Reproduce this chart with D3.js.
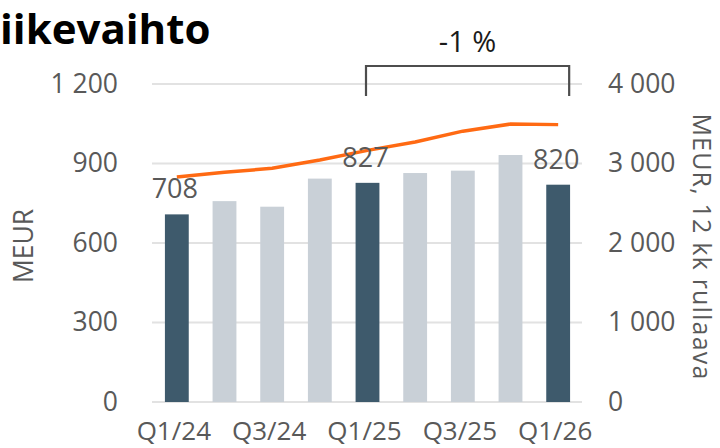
<!DOCTYPE html>
<html>
<head>
<meta charset="utf-8">
<script src="https://cdn.jsdelivr.net/npm/d3@7"></script>
<style>
  body { margin: 0; background: #fff; }
  svg { display: block; font-family: "Open Sans", sans-serif; }
</style>
</head>
<body>
<div id="chart"></div>
<script>
var width = 720, height = 448;

// quarterly net sales, MEUR
var quarters = ["Q1/24", "Q2/24", "Q3/24", "Q4/24", "Q1/25", "Q2/25", "Q3/25", "Q4/25", "Q1/26"];
var sales = [708, 758, 737, 843, 827, 864, 873, 932, 820];
// 12 month rolling, MEUR
var rolling = [2830, 2889, 2940, 3044, 3165, 3271, 3407, 3496, 3489];
var highlighted = ["Q1/24", "Q1/25", "Q1/26"];
var shownLabels = ["Q1/24", "Q3/24", "Q1/25", "Q3/25", "Q1/26"];
var leftTicks = [0, 300, 600, 900, 1200];
var rightTicks = [0, 1000, 2000, 3000, 4000];

var locale = d3.formatLocale({ decimal: ",", thousands: " ", grouping: [3], currency: ["", " €"] });
var fmt = locale.format(",d");

var labelSize = 26.5;

var svg = d3.select("#chart").append("svg").attr("width", width).attr("height", height);

var x = d3.scaleBand().domain(quarters).range([153, 582]).paddingInner(0.5).paddingOuter(0.25);
var yL = d3.scaleLinear().domain([0, 1200]).range([402, 84]);
var yR = d3.scaleLinear().domain([0, 4000]).range([402, 84]);

// gridlines
svg.append("g").selectAll("line")
    .data(leftTicks)
    .enter().append("line")
    .attr("x1", 152).attr("x2", 582)
    .attr("y1", function(d){ return yL(d); })
    .attr("y2", function(d){ return yL(d); })
    .attr("stroke", "#e2e2e2")
    .attr("stroke-width", 2);

// left axis
var left = svg.append("g")
    .attr("transform", "translate(118,0)")
    .call(d3.axisLeft(yL).tickValues(leftTicks).tickFormat(fmt).tickSize(0).tickPadding(0));
left.select(".domain").remove();
left.selectAll("text").attr("font-size", labelSize).attr("fill", "#595959").attr("font-family", "Open Sans");

// right axis
var right = svg.append("g")
    .attr("transform", "translate(608,0)")
    .call(d3.axisRight(yR).tickValues(rightTicks).tickFormat(fmt).tickSize(0).tickPadding(0));
right.select(".domain").remove();
right.selectAll("text").attr("font-size", labelSize).attr("fill", "#595959").attr("font-family", "Open Sans");

// bars
svg.append("g").selectAll("rect")
    .data(quarters)
    .enter().append("rect")
    .attr("x", function(d){ return x(d); })
    .attr("width", x.bandwidth())
    .attr("y", function(d, i){ return yL(sales[i]); })
    .attr("height", function(d, i){ return yL(0) - yL(sales[i]); })
    .attr("fill", function(d){ return highlighted.indexOf(d) >= 0 ? "#3e5a6c" : "#c9d0d7"; });

// rolling line
var line = d3.line()
    .x(function(d, i){ return x(quarters[i]) + x.bandwidth() / 2; })
    .y(function(d){ return yR(d); });

svg.append("path")
    .datum(rolling)
    .attr("d", line)
    .attr("fill", "none")
    .attr("stroke", "#ff6a13")
    .attr("stroke-width", 3.5)
    .attr("stroke-linejoin", "round");

// value labels for highlighted bars
svg.append("g").selectAll("text")
    .data(quarters.filter(function(d){ return highlighted.indexOf(d) >= 0; }))
    .enter().append("text")
    .attr("x", function(d){ return x(d) + x.bandwidth() / 2 - 2; })
    .attr("y", function(d){ return yL(sales[quarters.indexOf(d)]) - 16; })
    .attr("text-anchor", "middle")
    .attr("font-size", 27)
    .attr("fill", "#595959")
    .text(function(d){ return sales[quarters.indexOf(d)]; });

// x labels
svg.append("g").selectAll("text")
    .data(shownLabels)
    .enter().append("text")
    .attr("x", function(d){ return x(d) + x.bandwidth() / 2 - 3; })
    .attr("y", 440)
    .attr("text-anchor", "middle")
    .attr("font-size", 26)
    .attr("fill", "#595959")
    .text(function(d){ return d; });

// axis titles
svg.append("text")
    .attr("transform", "translate(33,246) rotate(-90)")
    .attr("text-anchor", "middle")
    .attr("font-size", labelSize)
    .attr("fill", "#595959")
    .text("MEUR");

svg.append("text")
    .attr("transform", "translate(693,247) rotate(90)")
    .attr("text-anchor", "middle")
    .attr("font-size", 25)
    .attr("letter-spacing", 1.2)
    .attr("fill", "#595959")
    .text("MEUR, 12 kk rullaava");

// title
svg.append("text")
    .attr("x", 0).attr("y", 44)
    .attr("font-size", 42)
    .attr("font-weight", "bold")
    .attr("fill", "#000")
    .text("iikevaihto");

// change bracket Q1/25 -> Q1/26
var bx1 = x("Q1/25") + x.bandwidth() / 2 - 1.5,
    bx2 = x("Q1/26") + x.bandwidth() / 2 + 11;
svg.append("path")
    .attr("d", "M" + bx1 + ",96V66H" + bx2 + "V96")
    .attr("fill", "none")
    .attr("stroke", "#4d4d4d")
    .attr("stroke-width", 2.2);

svg.append("text")
    .attr("x", (bx1 + bx2) / 2).attr("y", 52)
    .attr("text-anchor", "middle")
    .attr("font-size", 29)
    .attr("fill", "#1a1a1a")
    .text("-1 %");
</script>
</body>
</html>
